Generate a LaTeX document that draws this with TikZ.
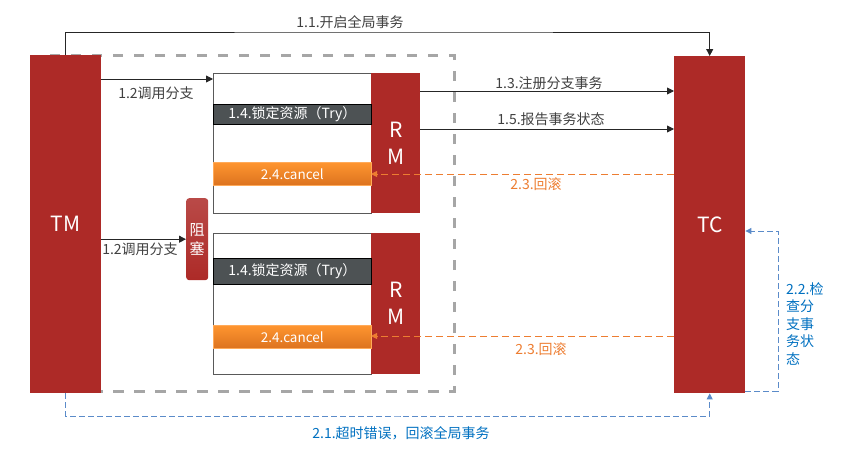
\documentclass[tikz,border=0pt]{standalone}
\usepackage{fontspec}
\setmainfont{Noto Sans CJK SC}
\usetikzlibrary{arrows.meta,calc}
\definecolor{rmred}{HTML}{AD2A27}
\definecolor{barDark}{HTML}{4D5254}
\definecolor{orTop}{HTML}{FF952F}
\definecolor{orBot}{HTML}{DC731F}
\definecolor{orLine}{HTML}{ED7D31}
\definecolor{blueLine}{HTML}{5B8BC9}
\definecolor{blueText}{HTML}{0070C0}
\definecolor{grayDash}{HTML}{A6A6A6}
\definecolor{labelGray}{HTML}{404040}
\begin{document}
\begin{tikzpicture}[x=1pt,y=-1pt,
  redbar/.style={fill=rmred, inner sep=0pt, anchor=north west, text=white, align=center, font=\fontsize{21}{27}\selectfont},
  whitebox/.style={draw=black!65, line width=0.8pt, fill=white, inner sep=0pt, anchor=north west, minimum width=158, minimum height=140},
  darkbar/.style={fill=barDark, draw=black, line width=0.8pt, inner sep=0pt, anchor=north west, minimum width=158, minimum height=20, text=white, font=\fontsize{14}{16}\selectfont},
  orbar/.style={top color=orTop, bottom color=orBot, draw=orTop!80!white, line width=0.6pt, inner sep=0pt, anchor=north west, minimum width=158, minimum height=23, text=white, font=\fontsize{13.5}{16}\selectfont},
  arr/.style={draw=black!85, line width=0.9pt, -{Triangle[length=7pt,width=7pt]}},
  oarr/.style={draw=orLine, line width=0.9pt, dash pattern=on 7pt off 4pt, -{Triangle[length=6pt,width=6pt]}},
  barr/.style={draw=blueLine, line width=0.9pt, dash pattern=on 6pt off 3pt, -{Triangle[length=6pt,width=6pt]}},
  lbl/.style={text=labelGray, font=\fontsize{14}{16}\selectfont, inner sep=0pt},
  olbl/.style={text=orLine, font=\fontsize{14}{16}\selectfont, inner sep=0pt},
  blbl/.style={text=blueText, font=\fontsize{14}{16}\selectfont, inner sep=0pt}
]
\useasboundingbox (0,0) rectangle (855,453);
% gray dashed frame
\draw[draw=grayDash, line width=3pt, dash pattern=on 10.5pt off 10.5pt] (50,55) rectangle (454,391);

% main red bars
\node[redbar, minimum width=71, minimum height=338] (TM) at (30,55) {TM};
\node[redbar, minimum width=71, minimum height=337] (TC) at (674,56) {TC};

% RM group 1
\node[whitebox] (w1) at (213,73) {};
\node[redbar, minimum width=49, minimum height=140] (rm1) at (371,73) {R\\M};
\node[darkbar] (d1) at (213,104) {1.4.锁定资源（Try）};
\node[orbar] (o1) at (213,162) {2.4.cancel};

% RM group 2
\node[whitebox, minimum height=141] (w2) at (213,233) {};
\node[redbar, minimum width=49, minimum height=141] (rm2) at (371,233) {R\\M};
\node[darkbar, minimum height=26] (d2) at (213,258) {1.4.锁定资源（Try）};
\node[orbar] (o2) at (213,325) {2.4.cancel};

% blocking box
\node[rounded corners=3pt, top color=rmred!85!white, bottom color=rmred, inner sep=0pt, anchor=north west,
      minimum width=22, minimum height=82, text=white, align=center, font=\fontsize{15}{19}\selectfont] (zs) at (186,198) {阻\\塞};

% coordinates
\coordinate (c11) at (400,32);
\coordinate (c12) at (213,79);
\coordinate (c13) at (674,91);
\coordinate (c15) at (674,129);
\coordinate (c23a) at (674,174);
\coordinate (c23b) at (674,336);
\coordinate (c21) at (400,416);
\coordinate (c22a) at (778,391);
\coordinate (c22b) at (778,231);

% 1.1
\draw[arr] (TM.north) |- (c11) -| (TC.north);
\node[lbl] at (350,22) {1.1.开启全局事务};
% 1.2
\draw[arr] (c12 -| TM.east) -- (c12);
\node[lbl] at (156,93) {1.2调用分支};
\draw[arr] (zs.west -| TM.east) -- (zs.west);
\node[lbl] at (140,249) {1.2调用分支};
% 1.3 / 1.5
\draw[arr] (c13 -| rm1.east) -- (c13);
\node[lbl] at (549,83) {1.3.注册分支事务};
\draw[arr] (c15 -| rm1.east) -- (c15);
\node[lbl] at (551,119) {1.5.报告事务状态};
% 2.3
\draw[oarr] (c23a) -- (c23a -| rm1.west);
\node[olbl] at (536,184) {2.3.回滚};
\draw[oarr] (c23b) -- (c23b -| rm2.west);
\node[olbl] at (541,349) {2.3.回滚};
% 2.1
\draw[barr] (TM.south) |- (c21) -| (TC.south);
\node[blbl] at (401,433) {2.1.超时错误，回滚全局事务};
% 2.2
\draw[barr] (c22a -| TC.east) -- (c22a) -- (c22b) -- (c22b -| TC.east);
\node[blbl, anchor=north west, align=left, font=\fontsize{14}{17.5}\selectfont] (l22) at (786,282) {2.2.检\\查分\\支事\\务状\\态};
\end{tikzpicture}
\end{document}
